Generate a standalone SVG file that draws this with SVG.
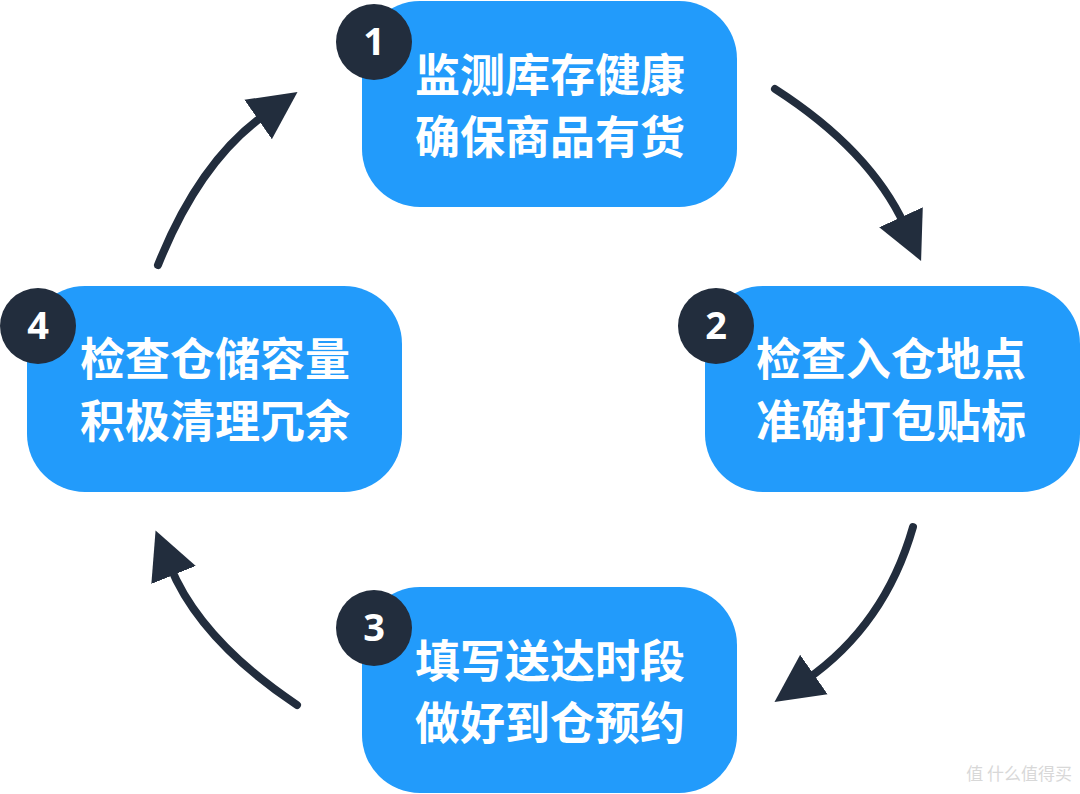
<svg xmlns="http://www.w3.org/2000/svg" width="1080" height="794" viewBox="0 0 1080 794">
<defs>
<style>
.box{fill:#229bfb}
.t{fill:#fff;font-family:"Noto Sans CJK SC","Noto Sans",sans-serif;font-weight:700;font-size:45px;text-anchor:middle}
.c{fill:#222d3d}
.n{fill:#fff;font-family:"Noto Sans","Liberation Sans",sans-serif;font-weight:700;font-size:38px;text-anchor:middle}
.a{fill:none;stroke:#222d3d;stroke-width:8;stroke-linecap:round;marker-end:url(#h)}
</style>
<marker id="h" viewBox="0 0 10 10" refX="2" refY="5" markerWidth="48" markerHeight="52" markerUnits="userSpaceOnUse" orient="auto"><path d="M0,0 L10,5 L0,10 z" fill="#222d3d"/></marker>
</defs>
<rect width="1080" height="794" fill="#fff"/>
<g id="connectors">
<path class="a" d="M775,89 Q870,150 905,226"/>
<path class="a" d="M913,527 Q885,625 806,680"/>
<path class="a" d="M297,705 Q200,640 170,566"/>
<path class="a" d="M158,265 Q200,160 266,114"/>
</g>
<g id="n1"><rect class="box" x="362" y="1" width="375" height="206" rx="58"/><text class="t" x="550" y="92">监测库存健康</text><text class="t" x="550" y="154">确保商品有货</text><circle class="c" cx="374" cy="42" r="38"/><text class="n" x="374" y="55">1</text></g>
<g id="n2"><rect class="box" x="705" y="286" width="375" height="206" rx="58"/><text class="t" x="891" y="376">检查入仓地点</text><text class="t" x="891" y="438">准确打包贴标</text><circle class="c" cx="716" cy="326" r="38"/><text class="n" x="716" y="339">2</text></g>
<g id="n3"><rect class="box" x="362" y="587" width="375" height="206" rx="58"/><text class="t" x="550" y="678">填写送达时段</text><text class="t" x="550" y="740">做好到仓预约</text><circle class="c" cx="374" cy="628" r="38"/><text class="n" x="374" y="641">3</text></g>
<g id="n4"><rect class="box" x="27" y="286" width="375" height="206" rx="58"/><text class="t" x="215" y="376">检查仓储容量</text><text class="t" x="215" y="438">积极清理冗余</text><circle class="c" cx="38" cy="326" r="38"/><text class="n" x="38" y="339">4</text></g>
<text x="1072" y="780" text-anchor="end" font-family="Noto Sans CJK SC,sans-serif" font-size="17" fill="#d8d8d8">值 什么值得买</text>
</svg>
